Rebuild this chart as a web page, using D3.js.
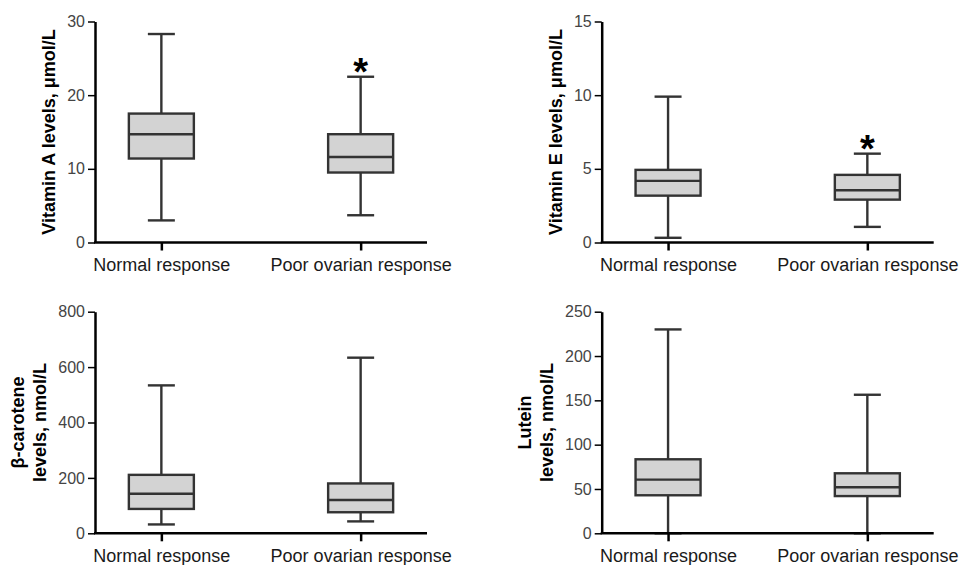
<!DOCTYPE html>
<html>
<head>
<meta charset="utf-8">
<script src="https://cdn.jsdelivr.net/npm/d3@7"></script>
<style>
	body { margin: 0; background: #fff; }
	svg { display: block; font-family: "Liberation Sans", Arial, sans-serif; }
</style>
</head>
<body>
<svg id="chart" width="962" height="565"></svg>
<script>
const categories = ["Normal response", "Poor ovarian response"];

// [min, q1, median, q3, max] per category
const vitaminA = [
	[3.0, 11.4, 14.7, 17.5, 28.3],
	[3.7, 9.5, 11.6, 14.7, 22.5],
];
const vitaminE = [
	[0.32, 3.18, 4.18, 4.93, 9.9],
	[1.06, 2.91, 3.55, 4.59, 6.03],
];
const betaCarotene = [
	[32, 88, 143, 211, 534],
	[43, 76, 120, 180, 634],
];
const lutein = [
	[0, 42.9, 60.5, 83.5, 230],
	[0, 42, 51.9, 67.7, 156.3],
];

const vitaminATicks = [0, 10, 20, 30];
const vitaminETicks = [0, 5, 10, 15];
const betaCaroteneTicks = [0, 200, 400, 600, 800];
const luteinTicks = [0, 50, 100, 150, 200, 250];

const significant = {
	vitaminA: [false, true],
	vitaminE: [false, true],
	betaCarotene: [false, false],
	lutein: [false, false],
};

const colors = {
	axis: "#000",
	box: "#333",
	fill: "#d3d3d3",
	tickText: "#444",
	label: "#1a1a1a",
};

const panels = [
	{ key: "vitaminA", data: vitaminA, ticks: vitaminATicks, title: ["Vitamin A levels, μmol/L"], x0: 95, top: 21.5, bottom: 242.5, titleX: 49 },
	{ key: "vitaminE", data: vitaminE, ticks: vitaminETicks, title: ["Vitamin E levels, μmol/L"], x0: 601.7, top: 21.5, bottom: 242.5, titleX: 556 },
	{ key: "betaCarotene", data: betaCarotene, ticks: betaCaroteneTicks, title: ["β-carotene", "levels, nmol/L"], x0: 95, top: 311.7, bottom: 533.3, titleX: 29 },
	{ key: "lutein", data: lutein, ticks: luteinTicks, title: ["Lutein", "levels, nmol/L"], x0: 601.7, top: 311.7, bottom: 533.3, titleX: 536 },
];

const plotWidth = 332;
const boxWidth = 65;
const capWidth = 27;

const svg = d3.select("#chart");

panels.forEach((p) => {
	const g = svg.append("g").attr("class", "panel");

	const x = d3.scalePoint()
		.domain(categories)
		.range([p.x0, p.x0 + plotWidth])
		.padding(0.333);

	const y = d3.scaleLinear()
		.domain(d3.extent(p.ticks))
		.range([p.bottom, p.top]);

	const rows = categories.map((c, i) => ({
		cat: c,
		min: p.data[i][0],
		q1: p.data[i][1],
		med: p.data[i][2],
		q3: p.data[i][3],
		max: p.data[i][4],
		sig: significant[p.key][i],
	}));

	// whiskers
	const box = g.selectAll(".box").data(rows).join("g").attr("class", "box");

	box.append("line")
		.attr("x1", (d) => x(d.cat))
		.attr("x2", (d) => x(d.cat))
		.attr("y1", (d) => y(d.min))
		.attr("y2", (d) => y(d.max))
		.attr("stroke", colors.box)
		.attr("stroke-width", 2.4);

	box.selectAll(".cap")
		.data((d) => [{ cat: d.cat, v: d.min }, { cat: d.cat, v: d.max }])
		.join("line")
		.attr("class", "cap")
		.attr("x1", (d) => x(d.cat) - capWidth / 2)
		.attr("x2", (d) => x(d.cat) + capWidth / 2)
		.attr("y1", (d) => y(d.v))
		.attr("y2", (d) => y(d.v))
		.attr("stroke", colors.box)
		.attr("stroke-width", 2.4);

	box.append("rect")
		.attr("x", (d) => x(d.cat) - boxWidth / 2)
		.attr("y", (d) => y(d.q3))
		.attr("width", boxWidth)
		.attr("height", (d) => y(d.q1) - y(d.q3))
		.attr("fill", colors.fill)
		.attr("stroke", colors.box)
		.attr("stroke-width", 2.4);

	box.append("line")
		.attr("x1", (d) => x(d.cat) - boxWidth / 2)
		.attr("x2", (d) => x(d.cat) + boxWidth / 2)
		.attr("y1", (d) => y(d.med))
		.attr("y2", (d) => y(d.med))
		.attr("stroke", colors.box)
		.attr("stroke-width", 2.4);

	box.filter((d) => d.sig)
		.append("text")
		.attr("x", (d) => x(d.cat))
		.attr("y", (d) => y(d.max) + 8)
		.attr("text-anchor", "middle")
		.attr("font-size", 38)
		.attr("font-weight", "bold")
		.attr("fill", "#000")
		.text("*");

	// y axis
	const yAxis = g.append("g")
		.attr("transform", `translate(${p.x0},0)`)
		.call(d3.axisLeft(y).tickValues(p.ticks).tickSize(7).tickPadding(3).tickSizeOuter(0));
	yAxis.select(".domain").attr("stroke", colors.axis).attr("stroke-width", 2.5);
	yAxis.selectAll(".tick line").attr("stroke", colors.axis).attr("stroke-width", 1.5);
	yAxis.selectAll(".tick text")
		.attr("font-size", 16)
		.attr("fill", colors.tickText)
		.attr("font-family", "Liberation Sans, Arial, sans-serif");

	// x axis
	const xAxis = g.append("g")
		.attr("transform", `translate(0,${p.bottom})`)
		.call(d3.axisBottom(x).tickSize(8).tickPadding(8).tickSizeOuter(0));
	xAxis.select(".domain")
		.attr("d", `M${p.x0 - 1},0H${p.x0 + plotWidth}`)
		.attr("stroke", colors.axis)
		.attr("stroke-width", 2.5);
	xAxis.selectAll(".tick line").attr("stroke", colors.axis).attr("stroke-width", 2.5);
	xAxis.selectAll(".tick text")
		.attr("font-size", 18)
		.attr("fill", colors.label)
		.attr("font-family", "Liberation Sans, Arial, sans-serif");

	// y title
	const midY = (p.top + p.bottom) / 2;
	const lineGap = 22;
	const title = g.append("text")
		.attr("transform", `translate(${p.titleX},${midY}) rotate(-90)`)
		.attr("text-anchor", "middle")
		.attr("font-size", 18)
		.attr("font-weight", "bold")
		.attr("fill", "#000");
	p.title.forEach((t, i) => {
		title.append("tspan")
			.attr("x", 0)
			.attr("y", (i - (p.title.length - 1) / 2) * lineGap + 6)
			.text(t);
	});
});
</script>
</body>
</html>
